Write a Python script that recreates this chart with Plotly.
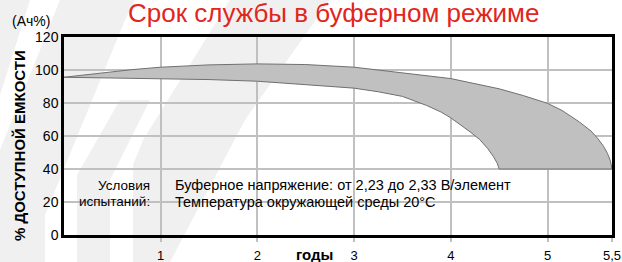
import plotly.graph_objects as go

# ---- data ----
title_text = "Срок службы в буферном режиме"
y_title = "% ДОСТУПНОЙ ЕМКОСТИ"
x_title = "годы"
unit_text = "(Ач%)"

upper_years = [0, 0.2, 0.4, 0.7, 1.0, 1.5, 2.0, 2.5, 3.0, 3.5, 4.0, 4.5, 4.75, 5.0, 5.15,
               5.33, 5.45, 5.52, 5.58, 5.62, 5.65, 5.667]
upper_cap   = [95.6, 97.0, 98.5, 100.2, 101.7, 103.1, 103.7, 103.3, 101.7, 98.3, 94.8, 88.6,
               84.5, 79.8, 75.5, 68.5, 63, 58.5, 53.7, 49.5, 45, 40]
lower_years = [0, 0.5, 1.0, 1.5, 2.0, 2.5, 3.0, 3.25, 3.5, 3.75, 3.9, 4.0, 4.1, 4.2, 4.3,
               4.38, 4.44, 4.48, 4.5]
lower_cap   = [95.6, 95.1, 94.6, 94.2, 93.2, 91.2, 89.0, 86.8, 84.0, 78.5, 74.5, 71.0, 67.0,
               62.5, 57.8, 52.5, 47.6, 43.5, 40]

x_tickvals = [1, 2, 3, 4, 5, 5.667]
x_ticktext = ["1", "2", "3", "4", "5", "5,5"]
y_tickvals = [0, 20, 40, 60, 80, 100, 120]

cond_label = ["Условия", "испытаний:"]
cond_text = ["Буферное напряжение: от 2,23 до 2,33 В/элемент",
             "Температура окружающей среды 20°C"]

# ---- figure ----
W, H = 622, 262
L, R, T, B = 64, 10, 37, 27
PW, PH = W - L - R, H - T - B

def px(x):
    return (x - L) / PW

def py(y):
    return (H - B - y) / PH

band_x = upper_years + lower_years[::-1]
band_y = upper_cap + lower_cap[::-1]

fig = go.Figure()
fig.add_trace(go.Scatter(
    x=band_x, y=band_y, mode="lines", fill="toself",
    fillcolor="#C0C0C0", line=dict(color="#707070", width=1),
    hoverinfo="skip", showlegend=False))

font = "Arial, Liberation Sans, sans-serif"

# watermark stripes
stripes = [
    [(0, 0), (30, 0), (0, 95)],
    [(0, 262), (45, 262), (45, 215), (125, 20), (135, 0), (60, 0), (0, 150)],
    [(77, 262), (110, 262), (110, 180), (150, 100), (120, 100), (77, 175)],
    [(133, 262), (170, 262), (245, 120), (330, 0), (230, 0), (143, 140), (133, 165)],
]
shapes = []
for poly in stripes:
    path = "M " + " L ".join(f"{px(a):.4f},{py(b):.4f}" for a, b in poly) + " Z"
    shapes.append(dict(type="path", xref="paper", yref="paper", path=path,
                       fillcolor="#F0F0F0", line=dict(width=0), layer="below"))

annotations = [
    dict(text=title_text, x=px(333), y=py(12.5), xref="paper", yref="paper",
         showarrow=False, font=dict(family=font, size=26, color="#E1261C"),
         xanchor="center", yanchor="middle"),
    dict(text=unit_text, x=px(10), y=py(21), xref="paper", yref="paper",
         showarrow=False, font=dict(family=font, size=14, color="#000"),
         xanchor="left", yanchor="middle"),
    dict(text=f"<b>{y_title}</b>", x=px(19), y=py(146), xref="paper", yref="paper",
         showarrow=False, textangle=-90, font=dict(family=font, size=15, color="#000"),
         xanchor="center", yanchor="middle"),
    dict(text=f"<b>{x_title}</b>", x=px(314), y=py(254), xref="paper", yref="paper",
         showarrow=False, font=dict(family=font, size=15, color="#000"),
         xanchor="center", yanchor="middle"),
]
for i, (lab, txt) in enumerate(zip(cond_label, cond_text)):
    yy = 185 + i * 16.5
    annotations.append(dict(text=lab, x=px(152), y=py(yy), xref="paper", yref="paper",
                            showarrow=False, font=dict(family=font, size=13.5, color="#000"),
                            xanchor="right", yanchor="middle"))
    annotations.append(dict(text=txt, x=px(173), y=py(yy), xref="paper", yref="paper",
                            showarrow=False, font=dict(family=font, size=14.5, color="#000"),
                            xanchor="left", yanchor="middle"))

fig.update_layout(
    width=W, height=H, margin=dict(l=L, r=R, t=T, b=B, pad=0, autoexpand=False),
    paper_bgcolor="#FFFFFF", plot_bgcolor="rgba(0,0,0,0)",
    showlegend=False, shapes=shapes, annotations=annotations,
    font=dict(family=font, color="#000"),
)
fig.update_xaxes(range=[0, 5.667], tickvals=x_tickvals, ticktext=x_ticktext,
                 automargin=False,
                 showgrid=True, gridcolor="#C0C0C0", gridwidth=2,
                 showline=True, linecolor="#000", linewidth=2.5, mirror=True,
                 ticks="outside", ticklen=4, tickcolor="#C0C0C0", tickwidth=2,
                 ticklabelstandoff=3,
                 tickfont=dict(size=13), zeroline=False)
fig.update_yaxes(range=[0, 120], tickvals=y_tickvals, automargin=False,
                 showgrid=True, gridcolor="#C0C0C0", gridwidth=2,
                 showline=True, linecolor="#000", linewidth=2.5, mirror=True,
                 ticks="", tickfont=dict(size=14), zeroline=False)

fig.write_html("out.html", config={"displayModeBar": False},
               post_script="document.body.style.margin='0px';")
